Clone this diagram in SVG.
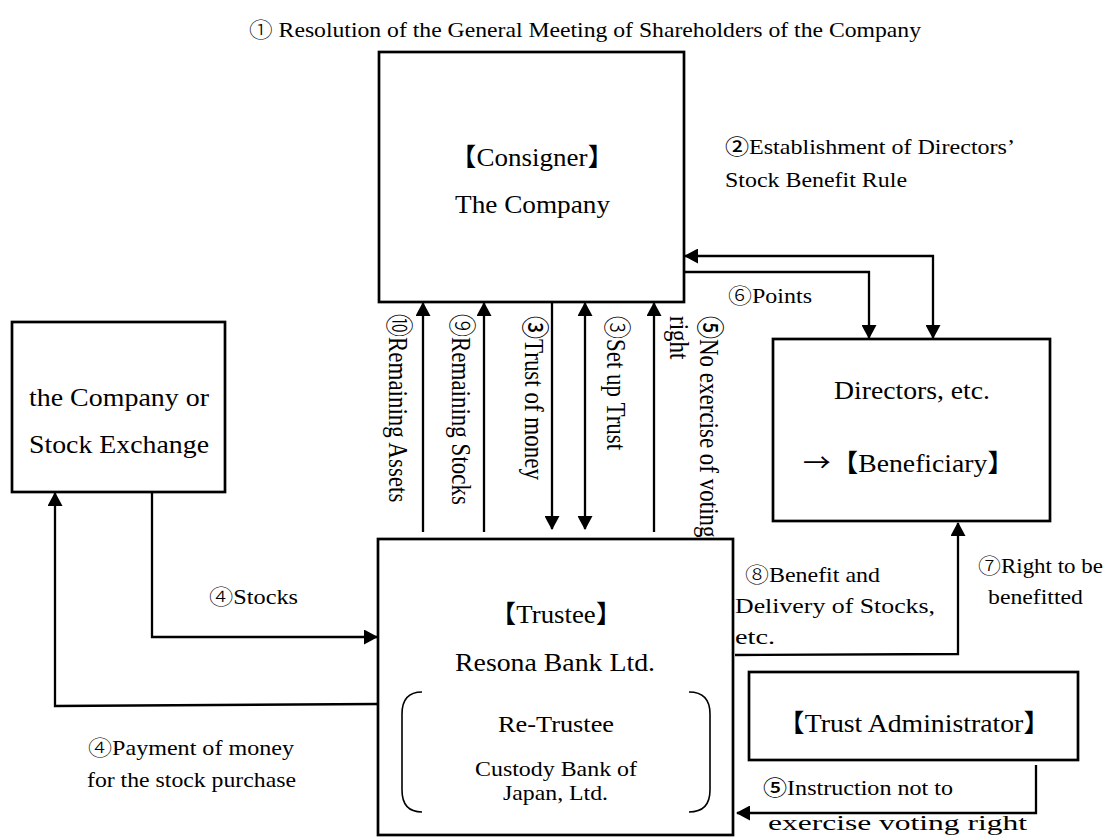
<svg xmlns="http://www.w3.org/2000/svg" width="1107" height="837" viewBox="0 0 1107 837">
<defs>
<marker id="ah" markerUnits="userSpaceOnUse" markerWidth="15" markerHeight="15" viewBox="0 0 15 15" refX="13" refY="7.5" orient="auto-start-reverse"><path d="M0,0 L14,7.5 L0,15 z" fill="#000"/></marker>
</defs>
<style>
.box{fill:#fff;stroke:#000;stroke-width:2.7}
.ln{fill:none;stroke:#000;stroke-width:2.3}
.br2{fill:none;stroke:#000;stroke-width:1.6}
text{font-family:"Liberation Serif","Times New Roman","Noto Sans CJK JP",serif;fill:#000}
.n{font-size:25px}
.l{font-size:21px}
.v{font-size:23px}
.c{font-family:"Noto Sans CJK JP",sans-serif;font-weight:300}
.b{font-family:"Noto Sans CJK JP",sans-serif;font-weight:500}
.k{font-family:"Noto Sans CJK JP",sans-serif}
</style>
<rect x="0" y="0" width="1107" height="837" fill="#fff"/>

<g id="title">
<text class="l" x="249" y="37" textLength="672" lengthAdjust="spacingAndGlyphs"><tspan class="c">①</tspan> Resolution of the General Meeting of Shareholders of the Company</text>
</g>

<g id="rule-label">
<text class="l" x="725" y="154" textLength="290" lengthAdjust="spacingAndGlyphs"><tspan class="b">②</tspan>Establishment of Directors’</text>
<text class="l" x="725" y="187" textLength="182" lengthAdjust="spacingAndGlyphs">Stock Benefit Rule</text>
</g>

<g id="consigner">
<rect class="box" x="379" y="52" width="305" height="250"/>
<text class="n" x="532" y="166" text-anchor="middle" textLength="165" lengthAdjust="spacingAndGlyphs"><tspan class="k">【</tspan>Consigner<tspan class="k">】</tspan></text>
<text class="n" x="455" y="213" textLength="155" lengthAdjust="spacingAndGlyphs">The Company</text>
</g>

<g id="exchange">
<rect class="box" x="12" y="322" width="213" height="170"/>
<text class="n" x="29" y="406" textLength="180" lengthAdjust="spacingAndGlyphs">the Company or</text>
<text class="n" x="29" y="453" textLength="180" lengthAdjust="spacingAndGlyphs">Stock Exchange</text>
</g>

<g id="beneficiary">
<rect class="box" x="773" y="339" width="277" height="182"/>
<text class="n" x="834" y="399" textLength="156" lengthAdjust="spacingAndGlyphs">Directors, etc.</text>
<text class="n" x="803" y="472" textLength="212" lengthAdjust="spacingAndGlyphs"><tspan class="k">→</tspan><tspan class="k">【</tspan>Beneficiary<tspan class="k">】</tspan></text>
</g>

<g id="trustee">
<rect class="box" x="378" y="539" width="355" height="296"/>
<text class="n" x="556" y="623" text-anchor="middle" textLength="133" lengthAdjust="spacingAndGlyphs"><tspan class="k">【</tspan>Trustee<tspan class="k">】</tspan></text>
<text class="n" x="455" y="671" textLength="200" lengthAdjust="spacingAndGlyphs">Resona Bank Ltd.</text>
<path class="br2" d="M422,692 Q402,692 402,714 L402,790 Q402,812 422,812"/>
<path class="br2" d="M689,692 Q710,692 710,714 L710,790 Q710,812 689,812"/>
<text x="498" y="732" style="font-size:24px" textLength="116" lengthAdjust="spacingAndGlyphs">Re-Trustee</text>
<text class="l" x="475" y="776" textLength="162" lengthAdjust="spacingAndGlyphs">Custody Bank of</text>
<text class="l" x="503" y="800" textLength="105" lengthAdjust="spacingAndGlyphs">Japan, Ltd.</text>
</g>

<g id="administrator">
<rect class="box" x="749" y="672" width="329" height="88"/>
<text class="n" x="914" y="732" text-anchor="middle" textLength="274" lengthAdjust="spacingAndGlyphs"><tspan class="k">【</tspan>Trust Administrator<tspan class="k">】</tspan></text>
</g>

<g id="connectors">
<path class="ln" d="M152,492 L152,637 L377,637" marker-end="url(#ah)"/>
<path class="ln" d="M378,704 L55,706 L55,493" marker-end="url(#ah)"/>
<path class="ln" d="M423,532 L423,303" marker-end="url(#ah)"/>
<path class="ln" d="M484,532 L484,303" marker-end="url(#ah)"/>
<path class="ln" d="M552,302 L552,529" marker-end="url(#ah)"/>
<path class="ln" d="M585,303 L585,529" marker-start="url(#ah)" marker-end="url(#ah)"/>
<path class="ln" d="M654,532 L654,303" marker-end="url(#ah)"/>
<path class="ln" d="M685,256 L933,256 L933,338" marker-start="url(#ah)" marker-end="url(#ah)"/>
<path class="ln" d="M684,272 L869,272 L869,338" marker-end="url(#ah)"/>
<path class="ln" d="M735,655 L958,654 L958,523" marker-end="url(#ah)"/>
<path class="ln" d="M1036,765 L1036,813 L737,813" marker-end="url(#ah)"/>
</g>

<g id="connector-labels">
<text class="l" x="209" y="604" textLength="89" lengthAdjust="spacingAndGlyphs"><tspan class="c">④</tspan>Stocks</text>
<text class="l" x="88" y="755" textLength="206" lengthAdjust="spacingAndGlyphs"><tspan class="c">④</tspan>Payment of money</text>
<text class="l" x="87" y="787" textLength="209" lengthAdjust="spacingAndGlyphs">for the stock purchase</text>
<text class="l" x="728" y="303" textLength="84" lengthAdjust="spacingAndGlyphs"><tspan class="c">⑥</tspan>Points</text>
<text class="l" x="745" y="582" textLength="135" lengthAdjust="spacingAndGlyphs"><tspan class="c">⑧</tspan>Benefit and</text>
<text class="l" x="735" y="613" textLength="200" lengthAdjust="spacingAndGlyphs">Delivery of Stocks,</text>
<text class="l" x="735" y="644" textLength="40" lengthAdjust="spacingAndGlyphs">etc.</text>
<text class="l" x="978" y="573" textLength="125" lengthAdjust="spacingAndGlyphs"><tspan class="c">⑦</tspan>Right to be</text>
<text class="l" x="988" y="604" textLength="95" lengthAdjust="spacingAndGlyphs">benefitted</text>
<text class="l" x="763" y="795" textLength="190" lengthAdjust="spacingAndGlyphs"><tspan class="b">⑤</tspan>Instruction not to</text>
<text class="l" x="768" y="830" textLength="259" lengthAdjust="spacingAndGlyphs">exercise voting right</text>
<text class="v" transform="translate(389,314) scale(1.2,1) rotate(90)"><tspan class="c">⑩</tspan>Remaining Assets</text>
<text class="v" transform="translate(452,314) scale(1.2,1) rotate(90)"><tspan class="c">⑨</tspan>Remaining Stocks</text>
<text class="v" transform="translate(525,316) scale(1.2,1) rotate(90)"><tspan class="b">③</tspan>Trust of money</text>
<text class="v" transform="translate(607,316) scale(1.2,1) rotate(90)"><tspan class="c">③</tspan>Set up Trust</text>
<text class="v" transform="translate(700,316) scale(1.2,1) rotate(90)"><tspan class="b">⑤</tspan>No exercise of voting</text>
<text class="v" transform="translate(670,316) scale(1.2,1) rotate(90)">right</text>
</g>
</svg>
